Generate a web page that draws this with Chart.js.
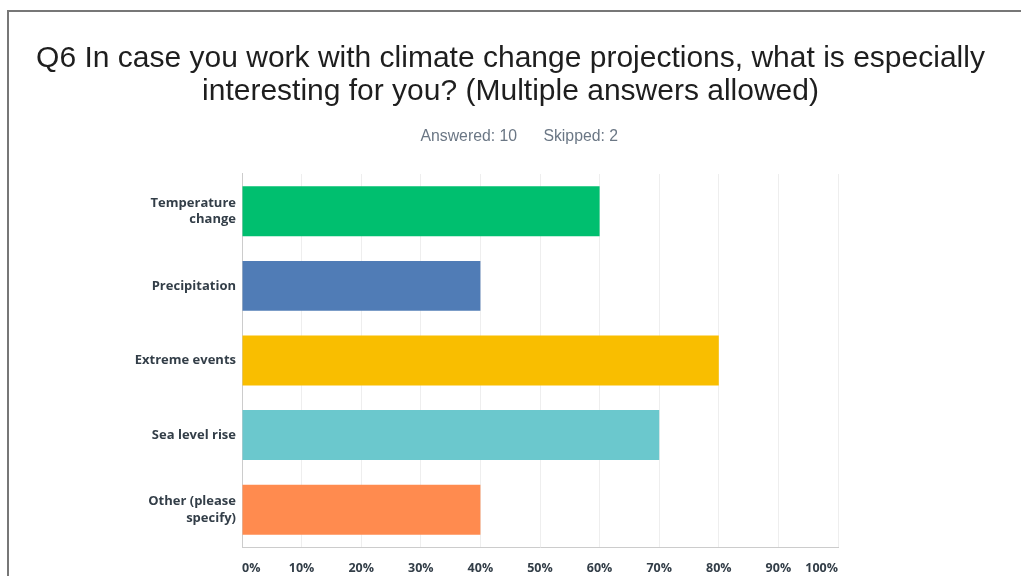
<!DOCTYPE html>
<html>
<head>
<meta charset="utf-8">
<script src="https://cdn.jsdelivr.net/npm/chart.js@4.4.1/dist/chart.umd.min.js"></script>
<style>
  html, body { margin: 0; padding: 0; background: #ffffff; overflow: hidden; }
  #wrap { position: relative; width: 1021px; height: 576px; }
  #frame { position: absolute; left: 7px; top: 10px; width: 1030px; height: 600px;
           border-top: 2px solid #777777; border-left: 2px solid #777777; pointer-events: none; }
  canvas { position: absolute; left: 0; top: 0; }
</style>
</head>
<body>
<div id="wrap">
  <canvas id="c" width="1021" height="576"></canvas>
  <div id="frame"></div>
</div>
<script>
const titleLines = ["Q6 In case you work with climate change projections, what is especially",
                    "interesting for you? (Multiple answers allowed)"];
const subtitleText = "\u00a0\u00a0\u00a0\u00a0Answered: 10\u00a0\u00a0\u00a0\u00a0\u00a0\u00a0Skipped: 2";
const categories = [["Temperature", "change"], "Precipitation", "Extreme events", "Sea level rise", ["Other (please", "specify)"]];
const percentValues = [60, 40, 80, 70, 40];
const barColors = ["#00bf6f", "#507cb6", "#f9be00", "#6bc8cd", "#ff8b4f"];
const tickValues = [0, 10, 20, 30, 40, 50, 60, 70, 80, 90, 100];

new Chart(document.getElementById("c"), {
  type: "bar",
  data: {
    labels: categories,
    datasets: [{
      data: percentValues,
      backgroundColor: barColors,
      borderWidth: 0,
      barPercentage: 0.67,
      categoryPercentage: 1.0
    }]
  },
  options: {
    indexAxis: "y",
    responsive: false,
    animation: false,
    layout: { padding: 0 },
    plugins: {
      legend: { display: false },
      tooltip: { enabled: false },
      title: {
        display: true,
        text: titleLines,
        color: "#1e1e1e",
        font: { family: "'Liberation Sans', Arial, sans-serif", size: 30, weight: "normal", lineHeight: 1.1 },
        padding: { top: 42, bottom: 19 }
      },
      subtitle: {
        display: true,
        text: subtitleText,
        color: "#6b7785",
        font: { family: "'Liberation Sans', Arial, sans-serif", size: 15.8, weight: "normal", lineHeight: 1.2 },
        padding: { top: 0, bottom: 28 }
      }
    },
    scales: {
      x: {
        type: "linear",
        min: 0,
        max: 100,
        afterBuildTicks: (s) => { s.ticks = tickValues.map(v => ({ value: v })); },
        afterFit: (s) => { s.height = 29; },
        grid: { color: "#eeeeee", drawTicks: false, lineWidth: 1 },
        border: { display: true, color: "#cccccc", width: 1 },
        ticks: {
          align: "inner",
          padding: 14,
          color: "#333e48",
          font: { family: "'Open Sans', sans-serif", size: 12.5, weight: "bold" },
          callback: (v) => v + "%"
        }
      },
      y: {
        type: "category",
        afterFit: (s) => { s.width = 242; },
        grid: { display: false, drawTicks: false },
        border: { display: true, color: "#cccccc", width: 1 },
        ticks: {
          padding: 6,
          color: "#333e48",
          font: { family: "'Open Sans', sans-serif", size: 13, weight: "bold", lineHeight: 1.3 }
        }
      },
      yPad: {
        type: "linear",
        position: "right",
        display: true,
        min: 0,
        max: 1,
        afterFit: (s) => { s.width = 183; },
        grid: { display: false, drawTicks: false },
        border: { display: false },
        ticks: { display: false }
      }
    }
  }
});
</script>
</body>
</html>
